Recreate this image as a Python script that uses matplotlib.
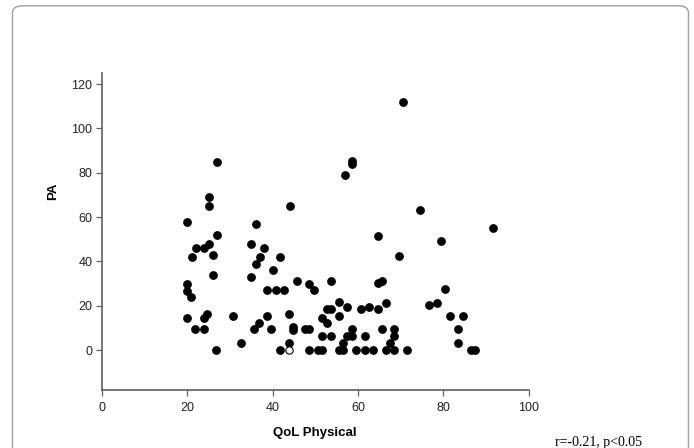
#! /usr/bin/env python3

import matplotlib.pyplot as plt
from matplotlib.patches import FancyBboxPatch

## Données

qol = [27, 25, 25, 20, 36, 44, 57, 58.5, 58.5, 70.5, 74.5, 91.5,
       27, 35, 38, 25, 24, 22, 21, 26, 37, 41.6, 36, 40, 26, 35, 20,
       45.6, 48.6, 53.6, 49.6, 38.7, 40.7, 42.6, 20, 20.8,
       55.6, 52.7, 53.6, 57.5, 20, 23.8, 24.7, 30.8, 38.7, 43.7,
       51.6, 52.6, 55.6, 36.7, 35.7, 21.8, 23.8, 39.7, 44.7, 44.7,
       47.6, 48.6, 51.6, 53.6, 57.5, 58.5, 32.6, 43.7, 56.5,
       26.8, 41.6, 48.6, 50.6, 51.6, 55.6, 56.5,
       64.6, 79.5, 69.6, 64.6, 65.5, 80.4, 66.6, 76.5, 78.5,
       60.6, 62.5, 64.6, 81.5, 84.5, 58.6, 65.5, 68.5, 83.5,
       61.5, 68.5, 67.5, 83.5,
       59.6, 61.5, 63.5, 66.5, 68.5, 71.5, 86.5, 87.4]
pa = [85, 69, 65, 58, 57, 65, 79, 85.5, 84, 112, 63, 55,
      52, 48, 46, 48, 46, 46, 42, 43, 42, 42, 39, 36, 34, 33, 30,
      31, 30, 31, 27, 27, 27, 27, 26.5, 24,
      21.5, 18.4, 18.4, 19.3, 14.3, 14.3, 16.2, 15.2, 15.2, 16.2,
      14.3, 12.3, 15.2, 12.3, 9.3, 9.3, 9.3, 9.3, 10.2, 9,
      9.3, 9.3, 6.2, 6.2, 6.2, 6.2, 3.2, 3.2, 3.2,
      0, 0, 0, 0, 0, 0, 0,
      51.4, 49.3, 42.4, 30.2, 31.3, 27.4, 21.3, 20.3, 21.3,
      18.4, 19.3, 18.4, 15.3, 15.3, 9.3, 9.3, 9.3, 9.3,
      6.3, 6.3, 3.3, 3.3,
      0, 0, 0, 0, 0, 0, 0, 0]

# le point isolé dessiné en cercle vide
qol_vide = [43.7]
pa_vide = [0]

xticks = [0, 20, 40, 60, 80, 100]
yticks = [0, 20, 40, 60, 80, 100, 120]

## Figure

fig = plt.figure(figsize=(6.94, 4.48), dpi=100)
ax = fig.add_axes([0.147, 0.1295, 0.615, 0.7076])

ax.scatter(qol, pa, s=28, color="black", zorder=3)
ax.scatter(qol_vide, pa_vide, s=28, facecolor="white", edgecolor="black",
           linewidth=0.8, zorder=3)

ax.set_xlim(0, 100)
ax.set_ylim(-18, 125)
ax.set_xticks(xticks)
ax.set_yticks(yticks)

for side in ("top", "right"):
    ax.spines[side].set_visible(False)
for side in ("left", "bottom"):
    ax.spines[side].set_color("#606060")
    ax.spines[side].set_linewidth(1.2)

ax.tick_params(axis="both", direction="out", length=4, width=0.9,
               color="#606060", labelsize=9, labelcolor="#222222")
ax.tick_params(axis="x", pad=5)
ax.tick_params(axis="y", pad=3)

for lab in ax.get_xticklabels() + ax.get_yticklabels():
    lab.set_family("Liberation Sans")

fig.text(0.453, 0.033, "QoL Physical", ha="center", va="center",
         fontsize=9.5, fontweight="bold", family="Liberation Sans")
fig.text(0.077, 0.572, "PA", ha="center", va="center", rotation=90,
         fontsize=9.5, fontweight="bold", family="Liberation Sans")
fig.text(0.862, 0.012, "r=-0.21, p<0.05", ha="center", va="center",
         fontsize=10, family="Liberation Serif")

# cadre arrondi autour de la figure
cadre = FancyBboxPatch((0.018, -0.1), 0.974, 1.087,
                       boxstyle="round,pad=0,rounding_size=0.015",
                       transform=fig.transFigure, facecolor="none",
                       edgecolor="#a0a0a0", linewidth=1.0, clip_on=False)
fig.patches.append(cadre)

fig.savefig("out.png", dpi=100)
